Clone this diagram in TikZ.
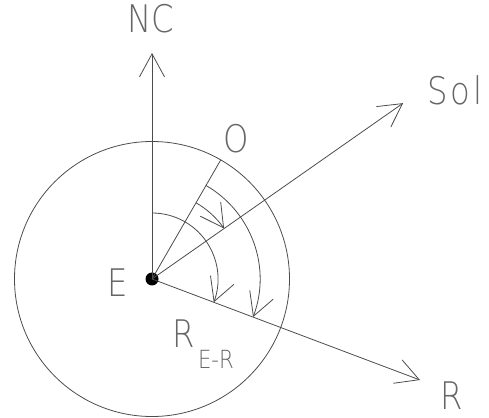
\documentclass[tikz,border=0pt]{standalone}
\usepackage{fontspec}
\newfontfamily\lblfont{DejaVu Sans ExtraLight}
\usetikzlibrary{arrows.meta,calc}
\begin{document}
\begin{tikzpicture}[x=1pt,y=1pt,
  ln/.style={draw=black!70, line width=0.8pt},
  arr/.style={ln, -{Straight Barb[length=23pt,width=25pt]}},
  lbl/.style={inner sep=0pt, text=black!60, font=\lblfont\fontsize{38}{40}\selectfont, xscale=0.85},
  dotnode/.style={circle, fill=black, inner sep=0pt, minimum size=13pt}]
\useasboundingbox (0,0) rectangle (489,417);
\node[dotnode] (E) at (152,138) {};
\coordinate (nc) at (152,364);
\coordinate (sol) at ($(E.center)+(35:306.6)$);
\coordinate (r) at (420,37);
\coordinate (o) at ($(E.center)+(60:137.5)$);
% circle
\draw[ln] (E.center) circle[radius=137.5];
% axes
\draw[arr] (E.center) -- (nc);
\draw[arr] (E.center) -- (sol);
\draw[arr] (E.center) -- (r);
\draw[ln] (E.center) -- (o);
% angle arcs
\draw[arr] ($(E.center)+(90:66)$) arc[start angle=90, end angle=-20.65, radius=66];
\draw[arr] ($(E.center)+(60:88)$) arc[start angle=60, end angle=35, radius=88];
\draw[arr] ($(E.center)+(60:108)$) arc[start angle=60, end angle=-20.65, radius=108];
% labels
\node[lbl, anchor=base] (lnc) at (151,384) {NC};
\node[lbl, anchor=base] (lsol) at (455,312) {\addfontfeature{LetterSpace=8}Sol};
\node[lbl, anchor=base] (lo) at (236.3,264) {O};
\node[lbl, anchor=base] (le) at (118,120) {E};
\node[lbl, anchor=base] (lr) at (452,8) {R};
\node[lbl, anchor=base west] (lrer) at (172,69) {R\hspace{4pt}\raisebox{-21pt}{\fontsize{25}{26}\selectfont E-R}};
\end{tikzpicture}
\end{document}
